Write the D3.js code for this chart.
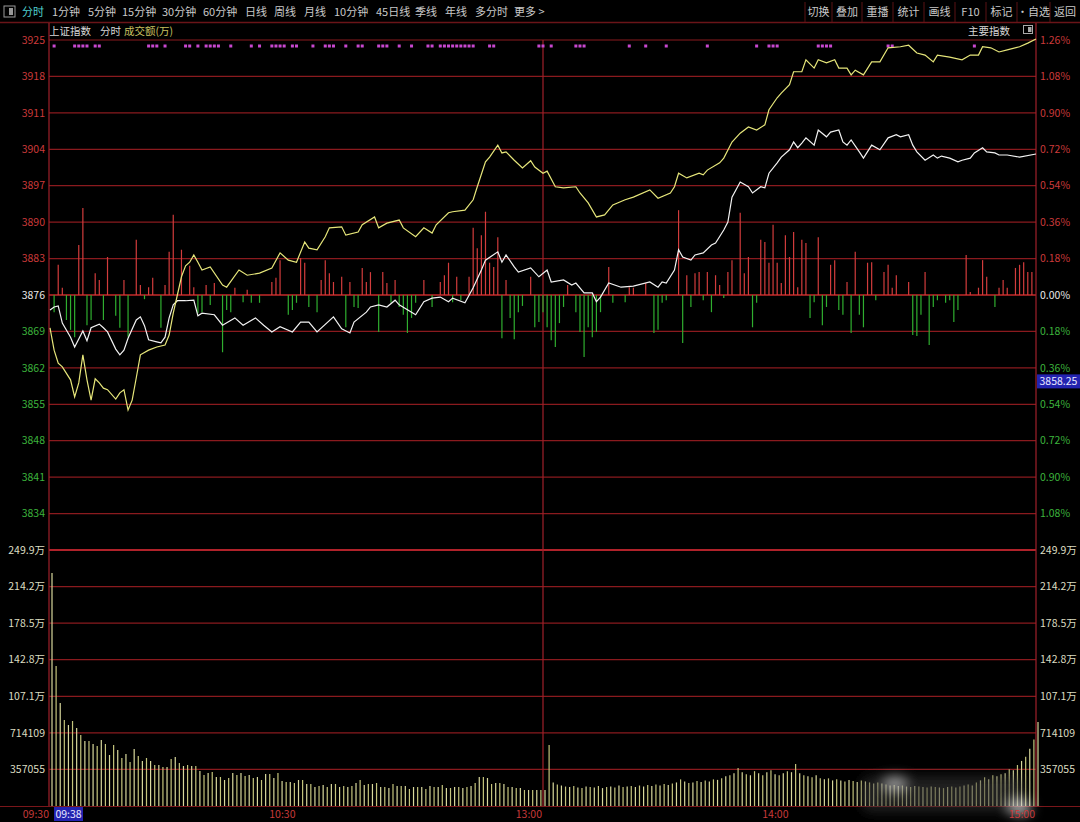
<!DOCTYPE html>
<html><head><meta charset="utf-8">
<script src="https://cdn.jsdelivr.net/npm/d3@7/dist/d3.min.js"></script>
<style>html,body{margin:0;padding:0;background:#000;}svg{display:block;}</style>
</head><body>
<script>
// ---------- DATA ----------
const toolbarLeft = ["分时","1分钟","5分钟","15分钟","30分钟","60分钟","日线","周线","月线","10分钟","45日线","季线","年线","多分时","更多 >"];
const toolbarRight = ["切换","叠加","重播","统计","画线","F10","标记","•自选","返回"];
const priceTicks = [3925,3918,3911,3904,3897,3890,3883,3876,3869,3862,3855,3848,3841,3834];
const pctLabels = ["1.26%","1.08%","0.90%","0.72%","0.54%","0.36%","0.18%","0.00%","0.18%","0.36%","0.54%","0.72%","0.90%","1.08%"];
const volTicks = [357055,714110,1071165,1428220,1785275,2142330,2499385];
const volLabels = ["357055","714109","107.1万","142.8万","178.5万","214.2万","249.9万"];
const timeTicks = [0,60,120,180,240];
const timeLabels = ["09:30","10:30","13:00","14:00","15:00"];
const prevClose = 3876;

// yellow line (minute, value)
const yellowMin = [0,1,2,3,5,6,7,8,9,10,11,12,13,14,16,17,18,19,20,21,22,24,26,28,29,30,31,32,33,34,35,36,37,39,42,43,46,48,51,54,56,58,60,62,63,65,67,68,71,72,75,76,79,80,82,85,86,89,91,93,94,97,98,101,103,104,106,107,109,110,111,113,115,117,118,120,121,123,125,128,129,131,133,135,137,140,142,146,148,151,152,153,155,158,159,160,163,164,166,168,170,172,174,175,177,178,180,181,183,184,186,187,189,191,192,194,195,196,198,200,202,204,207,209,211,213,215,216,219,222,224,226,227,229,231,233,236,238,240];
const yellowVal = [3869.7,3865.4,3862.9,3862.2,3859.7,3856.4,3859.1,3864.5,3859.7,3855.8,3859.9,3859.1,3858.1,3857.8,3856.0,3857.2,3857.8,3853.9,3855.8,3860.1,3864.5,3865.4,3866.0,3866.4,3868.3,3872.5,3876.0,3879.5,3881.6,3882.3,3883.7,3882.3,3880.8,3881.4,3877.9,3877.5,3880.8,3879.8,3880.2,3881.2,3884.1,3882.7,3882.3,3886.2,3885.0,3884.7,3887.2,3888.9,3889.1,3887.5,3888.1,3889.5,3891.0,3888.9,3889.8,3890.4,3888.9,3887.2,3888.9,3887.9,3889.5,3891.8,3892.0,3892.3,3894.3,3896.8,3901.6,3902.5,3904.8,3903.3,3903.5,3901.9,3900.4,3901.8,3900.6,3899.4,3899.8,3896.8,3896.6,3896.8,3895.6,3893.7,3891.0,3891.4,3893.3,3894.3,3894.8,3896.2,3894.6,3895.6,3896.8,3899.4,3898.5,3899.4,3899.1,3900.0,3901.4,3902.3,3905.4,3907.1,3908.3,3907.7,3908.7,3911.6,3913.9,3914.8,3916.4,3918.9,3918.9,3921.2,3919.6,3921.2,3920.6,3921.2,3919.6,3919.6,3918.3,3919.2,3918.3,3920.8,3920.8,3923.5,3923.7,3924.0,3922.5,3922.1,3920.8,3922.1,3921.7,3921.2,3922.1,3922.1,3923.7,3923.5,3922.7,3923.1,3923.7,3924.4,3925.2];

// white line (minute, value)
const whiteMin = [0,1,2,3,5,6,8,9,10,12,13,14,16,17,18,19,21,22,23,24,26,27,28,29,30,31,33,35,36,37,40,42,45,47,50,52,54,56,59,61,63,65,69,71,73,74,77,78,80,82,84,85,88,89,91,93,95,97,98,101,103,105,106,109,110,111,113,114,117,119,121,122,125,127,128,130,132,133,134,136,139,142,146,148,149,150,152,153,154,156,157,159,161,162,164,165,166,168,170,171,173,174,175,177,178,180,181,182,183,184,186,187,189,190,192,193,194,195,197,198,200,202,204,206,207,209,210,211,213,215,216,217,219,221,222,224,225,227,228,230,231,233,236,240];
const whiteVal = [3873.1,3873.7,3873.9,3870.6,3867.9,3866.0,3869.1,3867.2,3869.7,3870.4,3869.7,3868.9,3865.6,3864.5,3865.4,3867.7,3871.2,3871.8,3870.1,3867.4,3867.0,3866.8,3867.9,3871.6,3874.1,3874.9,3874.9,3875.0,3872.0,3872.5,3872.2,3870.2,3871.6,3870.2,3871.6,3870.2,3868.9,3869.9,3868.9,3870.8,3870.8,3868.9,3871.8,3869.5,3868.7,3870.8,3872.7,3873.7,3874.1,3873.7,3875.0,3874.1,3872.7,3872.2,3874.7,3875.4,3875.6,3874.7,3875.4,3874.5,3877.4,3880.8,3882.7,3884.3,3882.3,3883.7,3881.4,3880.4,3881.2,3879.5,3880.8,3878.5,3878.9,3877.9,3878.3,3876.4,3876.4,3874.7,3875.6,3878.3,3877.5,3877.7,3878.5,3877.5,3878.5,3878.3,3880.8,3884.7,3883.3,3882.7,3883.7,3884.1,3885.6,3886.0,3888.5,3890.0,3894.8,3897.7,3896.8,3895.6,3896.8,3896.6,3899.4,3901.4,3902.5,3903.9,3905.4,3904.3,3905.2,3906.2,3904.8,3907.7,3906.4,3907.3,3907.7,3905.4,3904.8,3905.8,3903.5,3902.3,3904.8,3903.9,3906.2,3906.8,3906.4,3906.8,3904.8,3903.5,3901.9,3902.9,3902.3,3902.7,3902.3,3901.6,3901.9,3902.3,3903.3,3904.3,3903.5,3903.3,3902.9,3902.9,3902.5,3903.1];

// red/green breadth bars (minute, signed points from prev close)
const barMin = [1,2,3,4,5,6,7,8,9,10,11,12,13,14,16,17,18,19,21,22,23,24,25,27,28,29,30,32,34,35,36,37,38,39,40,42,43,44,45,47,48,49,51,54,55,56,58,59,60,61,62,63,65,66,67,68,69,71,72,73,74,75,76,77,78,80,81,82,83,84,85,86,87,88,89,91,93,95,96,97,98,99,100,102,103,104,105,106,107,108,109,110,111,112,113,114,115,117,118,119,120,121,122,123,124,125,126,128,129,130,131,132,133,134,136,137,140,141,142,145,147,148,149,150,153,154,155,156,157,158,159,160,161,162,163,164,165,166,168,169,170,171,172,173,174,175,176,177,178,179,180,181,182,183,184,185,186,187,188,189,190,191,192,193,194,195,196,197,198,199,200,201,203,204,205,206,209,210,211,212,213,214,215,216,218,219,220,221,223,224,226,227,228,230,231,232,233,235,236,237,238,239];
const barVal = [-3.3,5.8,1.4,-4.8,-6.7,-8.1,9.6,16.7,-5.8,-4.8,4.2,2.9,-4.8,7.3,-4.0,-6.3,2.9,-8.0,10.6,1.9,-0.8,1.5,3.3,-6.3,1.9,8.3,15.4,8.7,5.6,1.5,-3.5,-3.3,1.9,-1.9,2.3,-11.0,-2.9,-3.3,1.4,-1.4,1.0,-1.5,-1.5,2.5,3.3,6.7,-3.8,-2.9,-1.5,7.1,6.2,-2.3,-3.3,2.9,6.7,4.2,2.5,3.5,-6.2,2.5,-2.3,-2.5,5.2,2.5,4.4,-7.1,4.4,2.3,-1.5,2.9,-2.3,-3.8,-7.3,-4.4,-1.5,2.9,-2.3,2.5,3.8,6.2,-1.4,3.5,-1.0,3.5,12.9,9.0,11.5,16.0,6.2,5.4,11.1,-8.3,2.9,-4.4,-8.5,-3.3,-2.1,3.5,-6.2,-5.2,-3.3,-6.2,-8.7,-10.0,-5.4,-2.3,1.9,-3.3,-7.1,-11.9,-6.2,-8.1,-7.1,-3.3,5.4,-1.5,-1.4,1.5,1.4,2.3,-7.3,-6.7,-1.5,-1.0,16.3,-9.2,3.8,-2.3,4.2,4.4,-1.0,4.4,-3.3,3.8,1.9,-0.6,4.4,6.7,15.8,4.2,7.3,-6.2,-1.5,10.6,10.2,6.2,13.5,6.2,2.3,11.5,7.3,12.1,1.5,10.6,10.0,-4.4,-1.4,11.1,-5.8,-2.3,5.8,6.7,-2.9,-3.8,2.5,-7.3,8.3,-3.8,-6.2,6.2,6.3,-1.0,4.4,5.8,1.4,3.8,2.5,-7.7,-7.9,-3.8,4.4,-9.6,-2.3,-1.0,-1.5,-1.0,-5.2,-2.9,7.7,0.6,1.4,6.7,3.5,-2.3,1.4,2.9,1.4,5.2,5.8,6.3,4.4,4.4];

// turnover per minute (万)
const volume = [2274800,1366800,1005600,839600,790800,829900,761500,693200,634600,634600,605300,585800,644400,605300,497900,595500,546700,468600,507700,429600,556500,488200,439300,468600,439300,400300,400300,380800,380800,458900,478400,419800,390500,400300,390500,390500,341700,302700,322200,331900,283100,283100,253800,273400,322200,302700,322200,292900,302700,273400,283100,253800,312400,312400,273400,322200,244100,234300,234300,224500,253800,253800,214800,214800,185500,195300,205000,185500,214800,214800,185500,195300,185500,195300,224500,253800,205000,214800,214800,224500,185500,185500,175700,214800,195300,195300,195300,166000,185500,185500,185500,166000,195300,185500,185500,205000,175700,175700,185500,185500,175700,185500,195300,224500,283100,283100,273400,214800,224500,224500,214800,185500,185500,175700,175700,156200,156200,156200,156200,156200,156200,
595500,230000,210000,200000,190000,185000,195000,180000,175000,190000,185000,180000,195000,175000,185000,190000,180000,200000,185000,190000,195000,185000,200000,190000,205000,195000,210000,200000,215000,205000,220000,230000,260000,240000,225000,230000,245000,235000,250000,240000,260000,255000,270000,290000,300000,320000,370000,330000,310000,300000,340000,320000,300000,330000,350000,310000,300000,320000,340000,330000,410000,320000,300000,290000,280000,300000,270000,260000,270000,250000,260000,250000,240000,255000,245000,235000,250000,240000,230000,220000,230000,220000,210000,200000,205000,195000,200000,190000,185000,195000,190000,185000,180000,190000,185000,180000,175000,185000,190000,180000,190000,200000,210000,200000,230000,250000,280000,260000,300000,290000,310000,320000,360000,350000,400000,440000,480000,560000,650000,820000];

// minutes with signal markers (pink dots)
const dotMin = [1,6,7,8,9,11,12,24,25,26,28,33,34,36,38,39,40,41,44,49,51,54,55,56,57,59,60,64,67,68,69,72,75,76,80,81,82,85,88,92,93,95,96,97,98,99,100,101,102,103,107,108,119,120,122,128,129,130,141,145,150,160,172,175,176,177,187,188,189,190,204,205,225];

const crossTime = "09:38";
const crossValue = "3858.25";
const crossY = 3859.4;

// ---------- CHART ----------
const W = 1080, H = 822;
const L = 49, R = 1036, T = 40, MID = 550, B = 806;
const font = "'Noto Sans CJK SC','Noto Sans',sans-serif";
const svg = d3.select("body").append("svg").attr("width", W).attr("height", H).style("background", "#000");

const x = d3.scaleLinear().domain([0, 240]).range([L + 1, R]);
const yP = d3.scaleLinear().domain([3827, 3925]).range([MID, T]);
const yV = d3.scaleLinear().domain([0, 2499385]).range([B, MID]);

const RED = "#cc3a3a", GREEN = "#3cb43c", GRID = "#8a1a1e";

const defs = svg.append("defs");
defs.append("filter").attr("id", "blur").attr("x", "-50%").attr("y", "-50%").attr("width", "200%").attr("height", "200%")
  .append("feGaussianBlur").attr("stdDeviation", 6);

// toolbar
const tb = svg.append("g");
tb.append("rect").attr("x", 4).attr("y", 6).attr("width", 11).attr("height", 11).attr("fill", "none").attr("stroke", "#999").attr("stroke-width", 1);
tb.append("rect").attr("x", 9).attr("y", 8).attr("width", 4).attr("height", 7).attr("fill", "#999");
const leftPos = [22,52,88,122,162,203,245,274,304,334,376,415,445,475,514];
toolbarLeft.forEach((t, i) => {
  tb.append("text").attr("x", leftPos[i]).attr("y", 16).attr("font-family", font).attr("font-size", 11)
    .attr("fill", i === 0 ? "#4fd0d0" : "#c8c8c8").text(t);
});
const rightSep = [805, 832, 862, 893, 924, 955, 986, 1017, 1050];
rightSep.forEach(s => tb.append("line").attr("x1", s).attr("x2", s).attr("y1", 2).attr("y2", 22).attr("stroke", "#5a1214"));
toolbarRight.forEach((t, i) => {
  const a = rightSep[i], b = i < rightSep.length - 1 ? rightSep[i + 1] : 1080;
  tb.append("text").attr("x", (a + b) / 2).attr("y", 16).attr("text-anchor", "middle").attr("font-family", font)
    .attr("font-size", 11).attr("fill", "#c8c8c8").text(t);
});
svg.append("line").attr("x1", 0).attr("x2", W).attr("y1", 22.5).attr("y2", 22.5).attr("stroke", "#6a1418").attr("stroke-width", 1.5);

// second row titles
svg.append("text").attr("x", 49).attr("y", 35).attr("font-family", font).attr("font-size", 10.5).attr("fill", "#d8d8d8").text("上证指数");
svg.append("text").attr("x", 100).attr("y", 35).attr("font-family", font).attr("font-size", 10.5).attr("fill", "#d8d8d8").text("分时");
svg.append("text").attr("x", 124).attr("y", 35).attr("font-family", font).attr("font-size", 10.5).attr("fill", "#c8c060").text("成交额(万)");
svg.append("text").attr("x", 968).attr("y", 35).attr("font-family", font).attr("font-size", 10.5).attr("fill", "#d8d8d8").text("主要指数");
svg.append("rect").attr("x", 1023.5).attr("y", 25.5).attr("width", 9).attr("height", 8).attr("fill", "none").attr("stroke", "#aaa");
svg.append("rect").attr("x", 1028).attr("y", 27).attr("width", 3.5).attr("height", 5).attr("fill", "#aaa");

// grid
const grid = svg.append("g");
priceTicks.forEach(v => grid.append("line").attr("x1", L).attr("x2", R).attr("y1", yP(v)).attr("y2", yP(v))
  .attr("stroke", v === prevClose ? "#c42a2a" : GRID).attr("stroke-width", v === prevClose ? 1.5 : 1.2));
volTicks.forEach(v => grid.append("line").attr("x1", L).attr("x2", R).attr("y1", yV(v)).attr("y2", yV(v))
  .attr("stroke", v === 2499385 ? "#b0222a" : GRID).attr("stroke-width", v === 2499385 ? 2 : 1.2));
grid.append("line").attr("x1", 0).attr("x2", W).attr("y1", B + 0.5).attr("y2", B + 0.5).attr("stroke", "#7a161a").attr("stroke-width", 1.2);
[L, R].forEach(xx => grid.append("line").attr("x1", xx).attr("x2", xx).attr("y1", 23).attr("y2", B).attr("stroke", "#a0202a").attr("stroke-width", 1.2));
grid.append("line").attr("x1", x(120)).attr("x2", x(120)).attr("y1", T).attr("y2", B).attr("stroke", "#a0202a").attr("stroke-width", 1.2);

// left/right axes
const axL = svg.append("g").attr("font-family", font).attr("font-size", 10.5);
priceTicks.forEach((v, i) => {
  const c = v > prevClose ? RED : v < prevClose ? GREEN : "#e8e8e8";
  axL.append("text").attr("x", 45).attr("y", yP(v)).attr("dy", "0.35em").attr("text-anchor", "end").attr("fill", c).text(v);
  axL.append("text").attr("x", 1040).attr("y", yP(v)).attr("dy", "0.35em").attr("fill", c).text(pctLabels[i]);
});
volTicks.forEach((v, i) => {
  axL.append("text").attr("x", 45).attr("y", yV(v)).attr("dy", "0.35em").attr("text-anchor", "end").attr("fill", "#dcdcc0").text(volLabels[i]);
  axL.append("text").attr("x", 1040).attr("y", yV(v)).attr("dy", "0.35em").attr("fill", "#dcdcc0").text(volLabels[i]);
});

// breadth bars
const bars = svg.append("g");
barMin.forEach((m, i) => {
  const v = barVal[i];
  bars.append("line").attr("x1", x(m)).attr("x2", x(m)).attr("y1", yP(prevClose)).attr("y2", yP(prevClose + v))
    .attr("stroke", v >= 0 ? "#d23c3c" : "#2fae2f").attr("stroke-width", 1.2);
});

// signal dots
dotMin.forEach(m => svg.append("rect").attr("x", x(m) - 1.5).attr("y", 44.5).attr("width", 3).attr("height", 3).attr("fill", "#c848d0"));

// lines
const lineGen = d3.line().x(d => x(d[0])).y(d => yP(d[1]));
svg.append("path").datum(whiteMin.map((m, i) => [m, whiteVal[i]])).attr("d", lineGen)
  .attr("fill", "none").attr("stroke", "#f2f2f2").attr("stroke-width", 1.2);
svg.append("path").datum(yellowMin.map((m, i) => [m, yellowVal[i]])).attr("d", lineGen)
  .attr("fill", "none").attr("stroke", "#e6e67a").attr("stroke-width", 1.2);

// volume bars
const vb = svg.append("g");
volume.forEach((v, m) => {
  vb.append("line").attr("x1", x(m) + 2).attr("x2", x(m) + 2).attr("y1", yV(0)).attr("y2", yV(v))
    .attr("stroke", m % 2 ? "#c4c47c" : "#d8d89c").attr("stroke-width", 1.2);
});

// faint watermark haze (bottom right of the photo)
const haze = svg.append("g").attr("filter", "url(#blur)");
haze.append("rect").attr("x", 860).attr("y", 776).attr("width", 165).attr("height", 36).attr("rx", 12).attr("fill", "#3a3a3a").attr("opacity", 0.55);
haze.append("ellipse").attr("cx", 895).attr("cy", 783).attr("rx", 11).attr("ry", 7).attr("fill", "#ffffff").attr("opacity", 0.55);
haze.append("ellipse").attr("cx", 1020).attr("cy", 808).attr("rx", 12).attr("ry", 8).attr("fill", "#ffffff").attr("opacity", 0.6);

// time axis
const ta = svg.append("g").attr("font-family", font).attr("font-size", 10.5);
timeTicks.forEach((m, i) => ta.append("text").attr("x", x(m) - 1).attr("y", 818).attr("text-anchor", "end").attr("fill", "#c83a3a").text(timeLabels[i]));
ta.append("rect").attr("x", 54).attr("y", 807).attr("width", 29).attr("height", 14).attr("fill", "#2323b0");
ta.append("text").attr("x", 68.5).attr("y", 818).attr("text-anchor", "middle").attr("fill", "#e8e8ff").text(crossTime);

// crosshair value box
svg.append("rect").attr("x", 1037).attr("y", yP(crossY) - 7).attr("width", 43).attr("height", 14).attr("fill", "#2323b0");
svg.append("text").attr("x", 1058.5).attr("y", yP(crossY)).attr("dy", "0.35em").attr("text-anchor", "middle")
  .attr("font-family", font).attr("font-size", 10.5).attr("fill", "#e8e8ff").text(crossValue);
</script>
</body></html>
